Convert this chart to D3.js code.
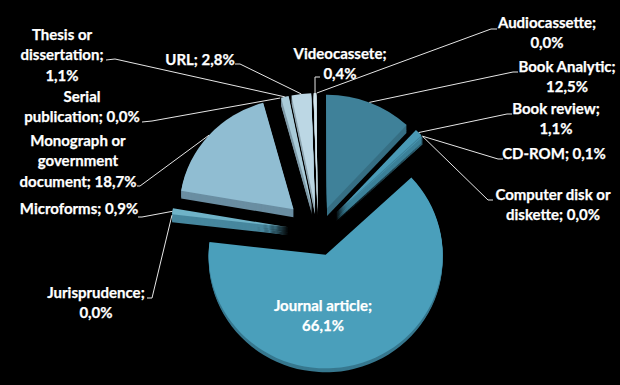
<!DOCTYPE html>
<html>
<head>
<meta charset="utf-8">
<script src="https://cdn.jsdelivr.net/npm/d3@7"></script>
<style>
  html, body { margin: 0; background: #000; }
  svg { display: block; }
  text { font-family: Lato, "Open Sans", sans-serif; font-weight: 700; font-size: 15px; fill: #fff; stroke: #fff; stroke-width: 0.25px; text-anchor: middle; }
</style>
</head>
<body>
<div id="chart"></div>
<script>
// Values as printed on the chart (they add up to 103.4, the pie normalises them)
const categories = ['Audiocassette', 'Book Analytic', 'Book review', 'CD-ROM', 'Computer disk or diskette',
    'Journal article', 'Jurisprudence', 'Microforms', 'Monograph or government document',
    'Serial publication', 'Thesis or dissertation', 'URL', 'Videocassete'];
const shares = [0.0, 12.5, 1.1, 0.1, 0.0, 66.1, 0.0, 0.9, 18.7, 0.0, 1.1, 2.8, 0.4];
const labelLines = [
    ['Audiocassette;', '0,0%'], ['Book Analytic;', '12,5%'], ['Book review;', '1,1%'], ['CD-ROM; 0,1%'],
    ['Computer disk or', 'diskette; 0,0%'], ['Journal article;', '66,1%'], ['Jurisprudence;', '0,0%'],
    ['Microforms; 0,9%'], ['Monograph or', 'government', 'document; 18,7%'], ['Serial', 'publication; 0,0%'],
    ['Thesis or', 'dissertation;', '1,1%'], ['URL; 2,8%'], ['Videocassete;', '0,4%']
];

const width = 620, height = 385;
const center = { x: 318, y: 231.5 };
const radius = 117, squash = 0.97;
const lineHeight = 20.3;

// Look of each slice, same order as categories
const faceColors = ['#cfe3ec', '#3f8199', '#4a9ab6', '#4a9ab6', '#4a9ab6', '#4a9fbb', '#6fb3c8', '#6fb3c8',
    '#90bdd2', '#a9cbd9', '#a9cbd9', '#bcd7e4', '#d4e6ee'];
const wallColors = ['#9db3bd', '#366f84', '#3c8199', '#3c8199', '#3c8199', '#37788f', '#47879e', '#47879e',
    '#6a8ea2', '#7f9aa7', '#7f9aa7', '#8ea5b0', '#a5b8c0'];
const explode = [25, 25, 26, 26, 26, 24.6, 30, 30, 33, 25, 25, 25, 25];
const depth = [8, 8, 8, 8, 8, 4, 8, 8, 8, 8, 8, 8, 8];
const sliceRadius = [117, 117, 117, 117, 117, 117, 117, 117, 114, 117, 117, 117, 117];

// Label placement: centre x, first line y, leader elbow (null = label sits on the slice)
const labelPos = [
    { x: 547, y: 24, elbow: [[497, 29], [491, 29]] },
    { x: 567, y: 68, elbow: [[518, 72], [513, 72]] },
    { x: 556, y: 110, elbow: [[512, 114], [507, 114]] },
    { x: 554, y: 155, elbow: [[503, 159], [498, 159]] },
    { x: 553, y: 196, elbow: [[493, 200], [488, 200]] },
    { x: 323, y: 307, elbow: null },
    { x: 96, y: 294, elbow: [[147, 298], [152, 298]] },
    { x: 79, y: 210, elbow: [[138, 217], [142, 217]] },
    { x: 78, y: 142, elbow: [[137, 186], [140, 186]] },
    { x: 82, y: 98, elbow: [[142, 122], [152, 121]] },
    { x: 62, y: 36, elbow: [[106, 60], [115, 59]] },
    { x: 200, y: 61, elbow: [[235, 64], [240, 64]] },
    { x: 340, y: 55, elbow: [[320, 77], [315, 77]] }
];

const svg = d3.select('#chart').append('svg')
    .attr('width', width)
    .attr('height', height);

svg.append('rect').attr('width', width).attr('height', height).attr('fill', '#000');

const pie = d3.pie().sort(null).startAngle(-0.5 * Math.PI / 180).endAngle(359.5 * Math.PI / 180);
const arcs = pie(shares);
const arc = d3.arc().innerRadius(0).outerRadius(d => sliceRadius[d.index]);

// Apex of a slice once it has been pulled out along its bisector
function apex(d, i) {
    const mid = (d.startAngle + d.endAngle) / 2;
    return [center.x + explode[i] * Math.sin(mid), center.y - explode[i] * Math.cos(mid)];
}

const slices = svg.selectAll('.slice')
    .data(arcs)
    .join('g')
    .attr('class', 'slice')
    .attr('transform', (d, i) => {
        const p = apex(d, i);
        return `translate(${p[0]},${p[1]}) scale(1,${squash})`;
    });

// Side walls: the face repeated downwards
slices.each(function (d, i) {
    d3.select(this).selectAll('.wall')
        .data(d3.range(depth[i], 0, -1))
        .join('path')
        .attr('class', 'wall')
        .attr('d', arc(d))
        .attr('transform', k => `translate(0,${k})`)
        .attr('fill', wallColors[i]);
});

slices.append('path')
    .attr('class', 'face')
    .attr('d', d => arc(d))
    .attr('fill', (d, i) => faceColors[i]);

// Leader lines run from the label elbow to the rim of the slice
const leader = d3.line();
svg.selectAll('.leader')
    .data(arcs)
    .join('path')
    .attr('class', 'leader')
    .attr('fill', 'none')
    .attr('stroke', '#e6e6e6')
    .attr('stroke-width', 1)
    .attr('d', (d, i) => {
        if (!labelPos[i].elbow) return null;
        const p = apex(d, i);
        const mid = (d.startAngle + d.endAngle) / 2;
        const r = sliceRadius[i];
        const rim = [p[0] + r * Math.sin(mid), p[1] - r * squash * Math.cos(mid)];
        return leader([...labelPos[i].elbow, rim]);
    });

const labels = svg.selectAll('.label')
    .data(labelLines)
    .join('text')
    .attr('class', 'label')
    .attr('dominant-baseline', 'middle');

labels.selectAll('tspan')
    .data((d, i) => d.map((line, k) => ({ line, k, i })))
    .join('tspan')
    .attr('x', d => labelPos[d.i].x)
    .attr('y', d => labelPos[d.i].y + d.k * lineHeight)
    .text(d => d.line);
</script>
</body>
</html>
